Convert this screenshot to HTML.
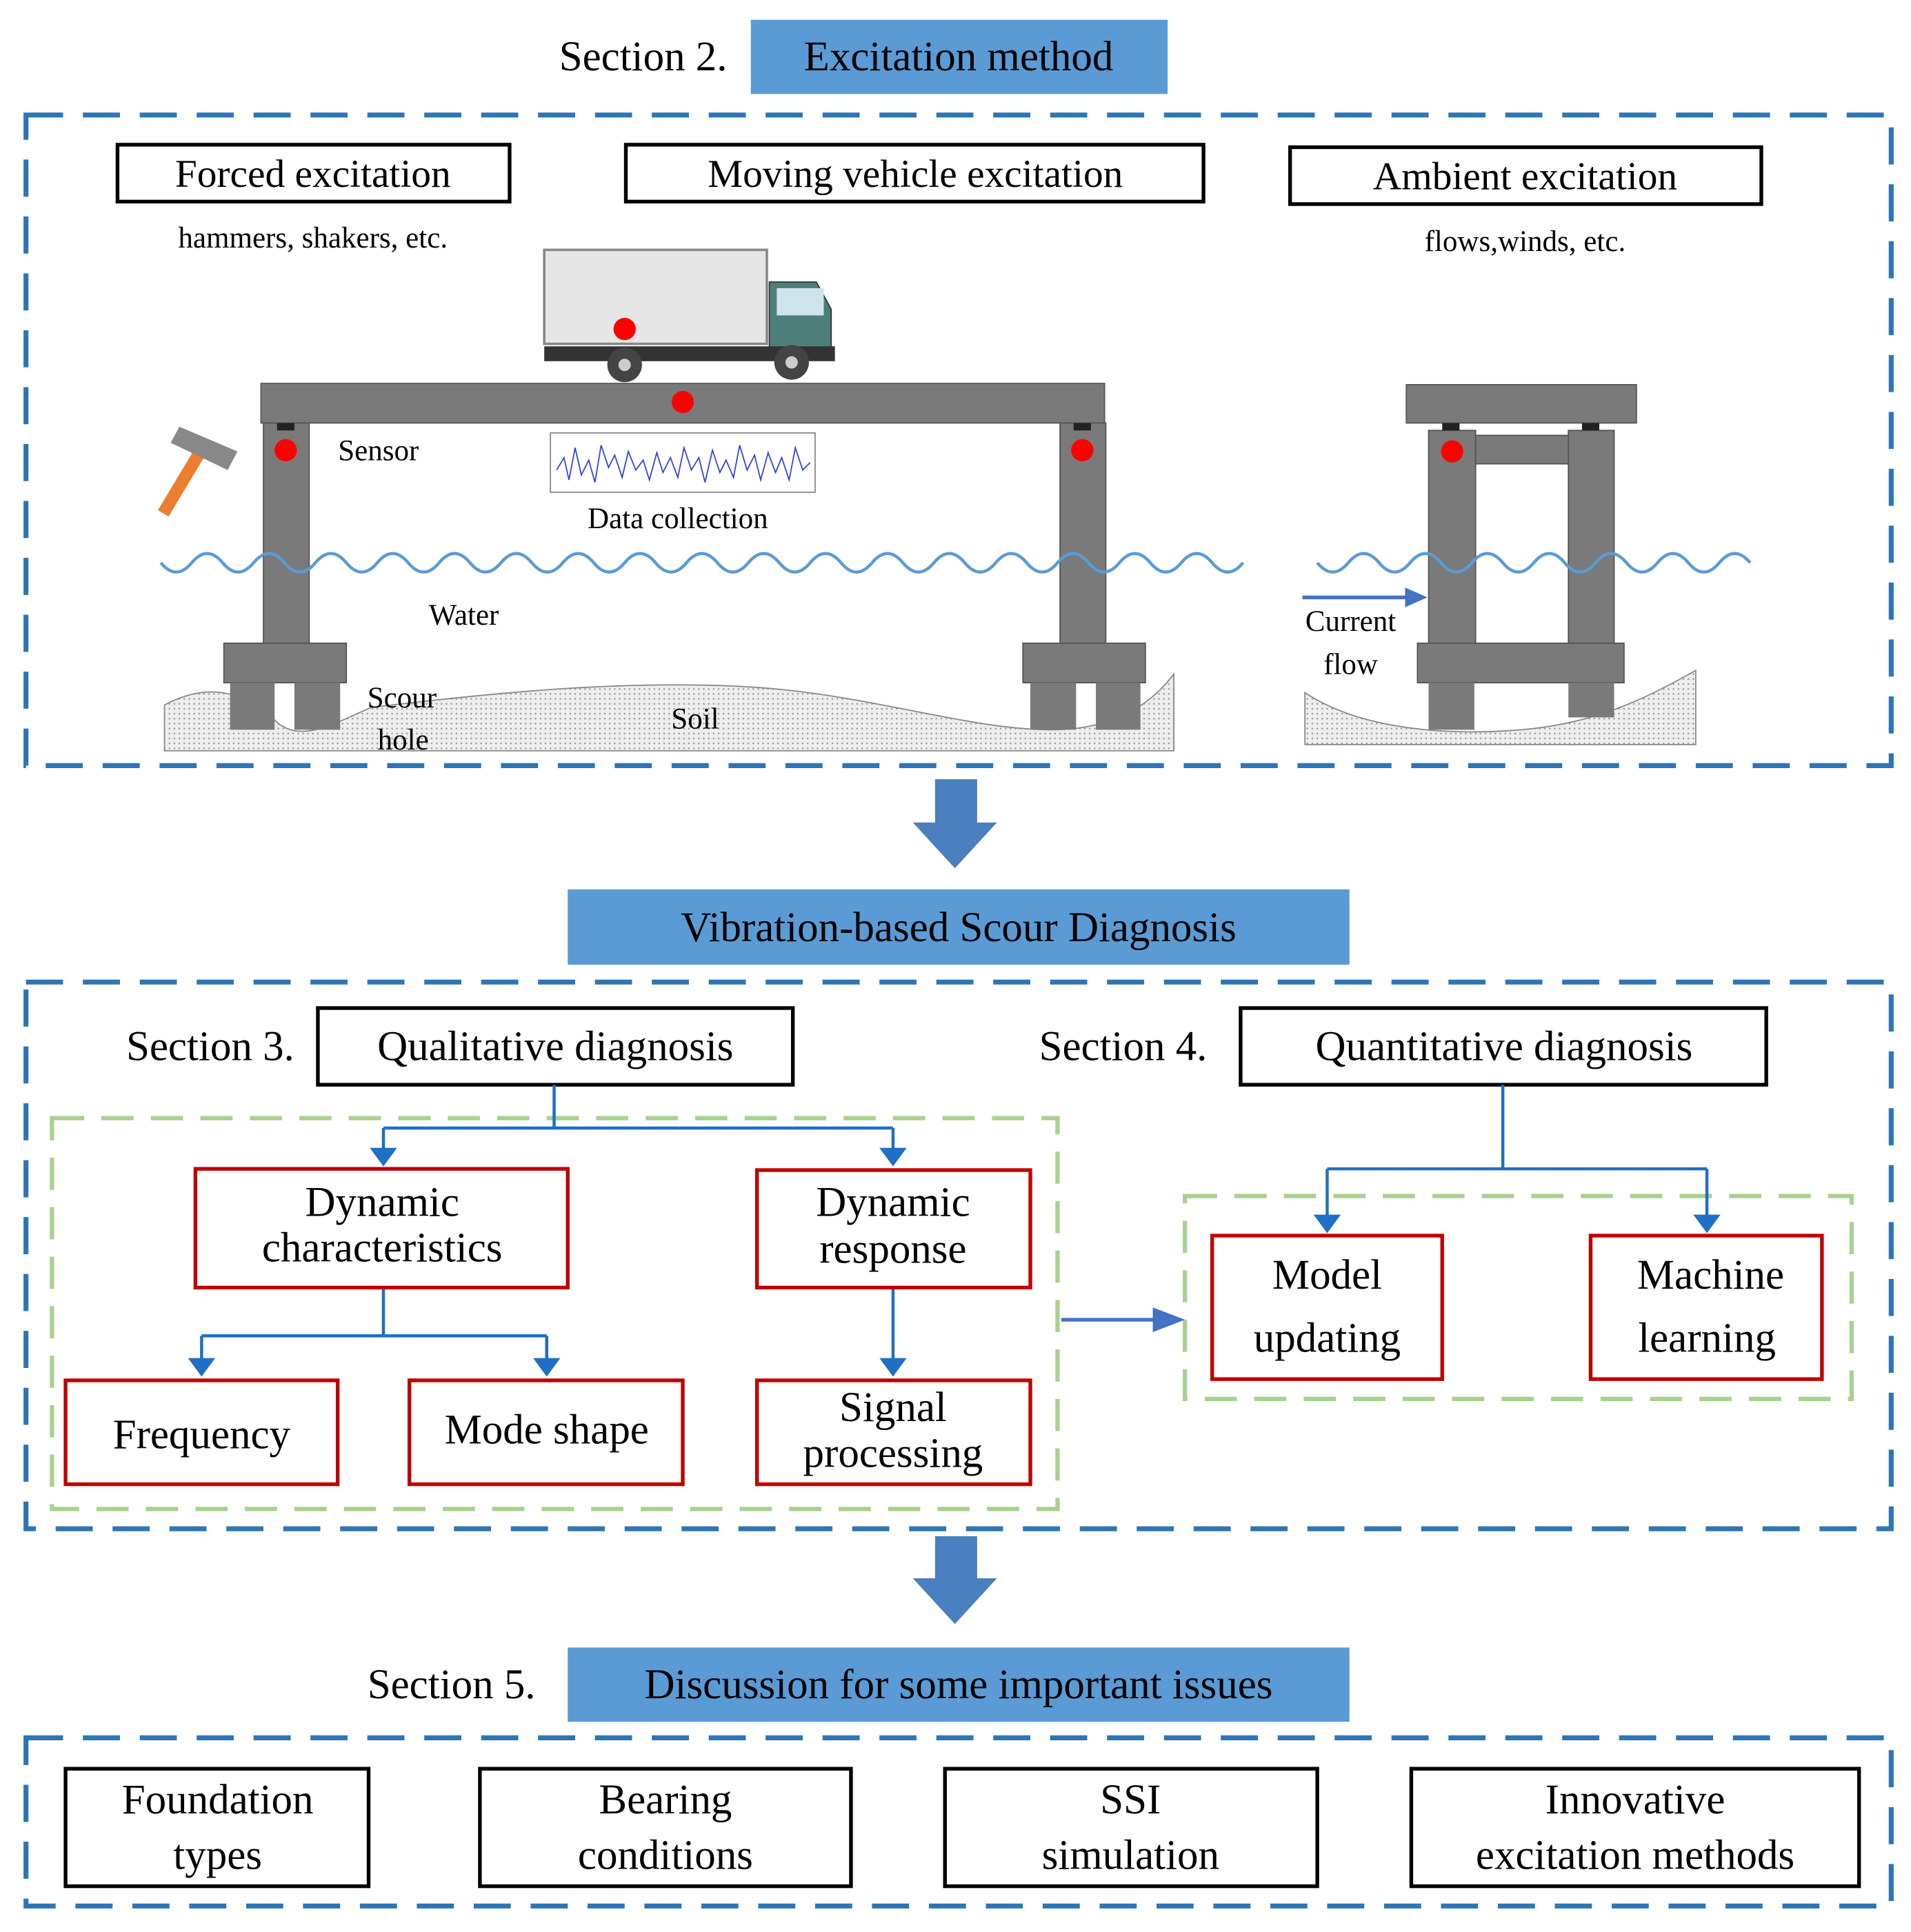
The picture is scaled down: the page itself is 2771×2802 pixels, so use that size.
<!DOCTYPE html>
<html><head><meta charset="utf-8"><style>html,body{margin:0;padding:0;background:#fff}svg{display:block}svg text{font-family:"Liberation Serif","DejaVu Serif",serif}</style></head><body>
<svg width="2771" height="2802" viewBox="0 0 1545 1562" preserveAspectRatio="none" xmlns="http://www.w3.org/2000/svg">
<defs>
<pattern id="dots" width="4" height="4" patternUnits="userSpaceOnUse"><rect width="4" height="4" fill="#eee"/><circle cx="1" cy="1" r="0.7" fill="#999"/></pattern>
</defs>
<g text-anchor="middle">
<text x="520" y="57" font-size="34">Section 2.</text>
<rect x="607" y="16" width="337" height="60" fill="#5b9bd5"/>
<text x="775" y="57" font-size="34">Excitation method</text>
<rect x="21" y="93" width="1508" height="526" fill="none" stroke="#2e75b6" stroke-width="4" stroke-dasharray="30,16"/>
<rect x="95" y="117" width="317" height="46" fill="none" stroke="#000" stroke-width="3"/>
<text x="253" y="151" font-size="32">Forced excitation</text>
<text x="253" y="200" font-size="24">hammers, shakers, etc.</text>
<rect x="506" y="117" width="467" height="46" fill="none" stroke="#000" stroke-width="3"/>
<text x="740" y="151" font-size="32">Moving vehicle excitation</text>
<rect x="1043" y="119" width="381" height="46" fill="none" stroke="#000" stroke-width="3"/>
<text x="1233" y="153" font-size="32">Ambient excitation</text>
<text x="1233" y="203" font-size="24">flows,winds, etc.</text>
<rect x="440" y="202" width="180" height="76" fill="#e6e6e6" stroke="#888" stroke-width="2"/>
<path d="M622,228 L660,228 L672,250 L672,290 L622,290z" fill="#4e7e7a" stroke="#333"/>
<rect x="628" y="233" width="38" height="22" fill="#cfe3ea"/>
<rect x="440" y="280" width="235" height="12" fill="#333"/>
<circle cx="505" cy="295" r="14" fill="#444"/><circle cx="505" cy="295" r="5" fill="#ccc"/>
<circle cx="640" cy="293" r="14" fill="#444"/><circle cx="640" cy="293" r="5" fill="#ccc"/>
<circle cx="505" cy="266" r="9" fill="#f00"/>
<path d="M133,570 C170,550 200,560 225,585 C245,600 270,585 300,572 C400,560 500,550 600,555 C700,560 780,590 850,590 C900,590 930,570 949,545 L949,607 L133,607z" fill="url(#dots)" stroke="#888"/>
<rect x="211" y="310" width="682" height="32" fill="#7a7a7a" stroke="#555"/>
<rect x="213" y="342" width="37" height="178" fill="#7a7a7a" stroke="#555"/>
<rect x="857" y="342" width="37" height="178" fill="#7a7a7a" stroke="#555"/>
<rect x="224" y="342" width="14" height="6" fill="#222"/><rect x="868" y="342" width="14" height="6" fill="#222"/>
<rect x="181" y="520" width="99" height="32" fill="#7a7a7a" stroke="#555"/>
<rect x="186" y="552" width="36" height="38" fill="#7a7a7a"/><rect x="238" y="552" width="37" height="38" fill="#7a7a7a"/>
<rect x="827" y="520" width="99" height="32" fill="#7a7a7a" stroke="#555"/>
<rect x="833" y="552" width="37" height="38" fill="#7a7a7a"/><rect x="886" y="552" width="36" height="38" fill="#7a7a7a"/>
<circle cx="552" cy="325" r="9" fill="#f00"/>
<circle cx="231" cy="364" r="9" fill="#f00"/><circle cx="875" cy="364" r="9" fill="#f00"/>
<text x="306" y="372" font-size="24">Sensor</text>
<rect x="445" y="350" width="214" height="48" fill="#fff" stroke="#888"/>
<polyline fill="none" stroke="#3344dd" stroke-width="1" points="450,380 456,370 460,388 465,362 470,384 476,372 481,390 486,360 492,378 497,368 503,386 508,365 514,380 520,372 525,388 531,366 536,382 542,370 548,386 553,362 559,380 565,370 570,390 576,364 582,382 587,372 593,386 598,360 604,380 610,368 615,388 621,366 627,382 632,370 638,388 643,362 649,380 655,374"/>
<text x="548" y="427" font-size="24">Data collection</text>
<line x1="132" y1="415" x2="165" y2="360" stroke="#ed7d31" stroke-width="10"/>
<path d="M145,345 L192,365 L184,380 L138,358z" fill="#888"/>
<text x="375" y="505" font-size="24">Water</text>
<text x="325" y="572" font-size="24">Scour</text>
<text x="326" y="606" font-size="24">hole</text>
<text x="562" y="589" font-size="24">Soil</text>
<path d="M1055,560 C1100,590 1170,595 1230,590 C1290,585 1330,565 1371,542 L1371,602 L1055,602z" fill="url(#dots)" stroke="#888"/>
<rect x="1137" y="311" width="186" height="31" fill="#7a7a7a" stroke="#555"/>
<rect x="1155" y="348" width="38" height="172" fill="#7a7a7a" stroke="#555"/>
<rect x="1268" y="348" width="37" height="172" fill="#7a7a7a" stroke="#555"/>
<rect x="1193" y="352" width="75" height="23" fill="#7a7a7a" stroke="#555"/>
<rect x="1166" y="342" width="14" height="6" fill="#222"/><rect x="1279" y="342" width="14" height="6" fill="#222"/>
<rect x="1146" y="520" width="167" height="32" fill="#7a7a7a" stroke="#555"/>
<rect x="1155" y="552" width="37" height="38" fill="#7a7a7a"/><rect x="1268" y="552" width="37" height="28" fill="#7a7a7a"/>
<circle cx="1174" cy="365" r="9" fill="#f00"/>
<line x1="1053" y1="483" x2="1140" y2="483" stroke="#4472c4" stroke-width="3"/>
<path d="M1136,475 L1154,483 L1136,491z" fill="#4472c4"/>
<text x="1092" y="510" font-size="24">Current</text>
<text x="1092" y="545" font-size="24">flow</text>
<path d="M756,630 L790,630 L790,665 L806,665 L772,702 L738,665 L756,665z" fill="#4a7fc0"/>
<rect x="459" y="719" width="632" height="61" fill="#5b9bd5"/>
<text x="775" y="761" font-size="34">Vibration-based Scour Diagnosis</text>
<rect x="21" y="794" width="1508" height="442" fill="none" stroke="#2e75b6" stroke-width="4" stroke-dasharray="30,16"/>
<text x="170" y="857" font-size="34">Section 3.</text>
<rect x="257" y="815" width="384" height="62" fill="none" stroke="#000" stroke-width="3"/>
<text x="449" y="857" font-size="34">Qualitative diagnosis</text>
<text x="908" y="857" font-size="34">Section 4.</text>
<rect x="1003" y="815" width="425" height="62" fill="none" stroke="#000" stroke-width="3"/>
<text x="1216" y="857" font-size="34">Quantitative diagnosis</text>
<rect x="42" y="904" width="813" height="316" fill="none" stroke="#a9d18e" stroke-width="3.5" stroke-dasharray="26,14"/>
<rect x="958" y="967" width="539" height="164" fill="none" stroke="#a9d18e" stroke-width="3.5" stroke-dasharray="26,14"/>
<g stroke="#1f6fc5" stroke-width="2.5" fill="none">
<path d="M448,877 V912 M310,912 H722 M310,912 V930 M722,912 V930"/>
<path d="M310,1041 V1080 M163,1080 H442 M163,1080 V1100 M442,1080 V1100"/>
<path d="M722,1041 V1100"/>
<path d="M1215,877 V945 M1073,945 H1380 M1073,945 V984 M1380,945 V984"/>
</g>
<g fill="#1f6fc5">
<path d="M299,928 h22 l-11,15z"/><path d="M711,928 h22 l-11,15z"/>
<path d="M152,1098 h22 l-11,15z"/><path d="M431,1098 h22 l-11,15z"/><path d="M711,1098 h22 l-11,15z"/>
<path d="M1062,982 h22 l-11,15z"/><path d="M1369,982 h22 l-11,15z"/>
</g>
<line x1="858" y1="1067" x2="940" y2="1067" stroke="#4472c4" stroke-width="3"/>
<path d="M932,1057 L958,1067 L932,1077z" fill="#4472c4"/>
<g fill="none" stroke="#c00000" stroke-width="3">
<rect x="158" y="945" width="301" height="96"/>
<rect x="612" y="946" width="221" height="95"/>
<rect x="53" y="1116" width="220" height="84"/>
<rect x="331" y="1116" width="221" height="84"/>
<rect x="612" y="1116" width="221" height="84"/>
<rect x="980" y="999" width="186" height="116"/>
<rect x="1286" y="999" width="187" height="116"/>
</g>
<g font-size="34">
<text x="309" y="983">Dynamic</text><text x="309" y="1020">characteristics</text>
<text x="722" y="983">Dynamic</text><text x="722" y="1021">response</text>
<text x="163" y="1171">Frequency</text>
<text x="442" y="1167">Mode shape</text>
<text x="722" y="1149">Signal</text><text x="722" y="1186">processing</text>
<text x="1073" y="1042">Model</text><text x="1073" y="1093">updating</text>
<text x="1383" y="1042">Machine</text><text x="1380" y="1093">learning</text>
</g>
<path d="M756,1242 L790,1242 L790,1276 L806,1276 L772,1313 L738,1276 L756,1276z" fill="#4a7fc0"/>
<text x="365" y="1373" font-size="34">Section 5.</text>
<rect x="459" y="1332" width="632" height="60" fill="#5b9bd5"/>
<text x="775" y="1373" font-size="34">Discussion for some important issues</text>
<rect x="21" y="1405" width="1508" height="136" fill="none" stroke="#2e75b6" stroke-width="4" stroke-dasharray="30,16"/>
<g fill="none" stroke="#000" stroke-width="3">
<rect x="53" y="1430" width="245" height="95"/>
<rect x="388" y="1430" width="300" height="95"/>
<rect x="764" y="1430" width="301" height="95"/>
<rect x="1141" y="1430" width="362" height="95"/>
</g>
<g font-size="34">
<text x="176" y="1466">Foundation</text><text x="176" y="1511">types</text>
<text x="538" y="1466">Bearing</text><text x="538" y="1511">conditions</text>
<text x="914" y="1466">SSI</text><text x="914" y="1511">simulation</text>
<text x="1322" y="1466">Innovative</text><text x="1322" y="1511">excitation methods</text>
</g>
</g>
<g fill="none" stroke="#5b9bd5" stroke-width="2.5">
<path d="M130,455 q12.5,15 25,0 q12.5,-15 25,0 q12.5,15 25,0 q12.5,-15 25,0 q12.5,15 25,0 q12.5,-15 25,0 q12.5,15 25,0 q12.5,-15 25,0 q12.5,15 25,0 q12.5,-15 25,0 q12.5,15 25,0 q12.5,-15 25,0 q12.5,15 25,0 q12.5,-15 25,0 q12.5,15 25,0 q12.5,-15 25,0 q12.5,15 25,0 q12.5,-15 25,0 q12.5,15 25,0 q12.5,-15 25,0 q12.5,15 25,0 q12.5,-15 25,0 q12.5,15 25,0 q12.5,-15 25,0 q12.5,15 25,0 q12.5,-15 25,0 q12.5,15 25,0 q12.5,-15 25,0 q12.5,15 25,0 q12.5,-15 25,0 q12.5,15 25,0 q12.5,-15 25,0 q12.5,15 25,0 q12.5,-15 25,0 q12.5,15 25,0"/>
<path d="M1065,455 q12.5,15 25,0 q12.5,-15 25,0 q12.5,15 25,0 q12.5,-15 25,0 q12.5,15 25,0 q12.5,-15 25,0 q12.5,15 25,0 q12.5,-15 25,0 q12.5,15 25,0 q12.5,-15 25,0 q12.5,15 25,0 q12.5,-15 25,0 q12.5,15 25,0 q12.5,-15 25,0"/>
</g>
</svg>
</body></html>
